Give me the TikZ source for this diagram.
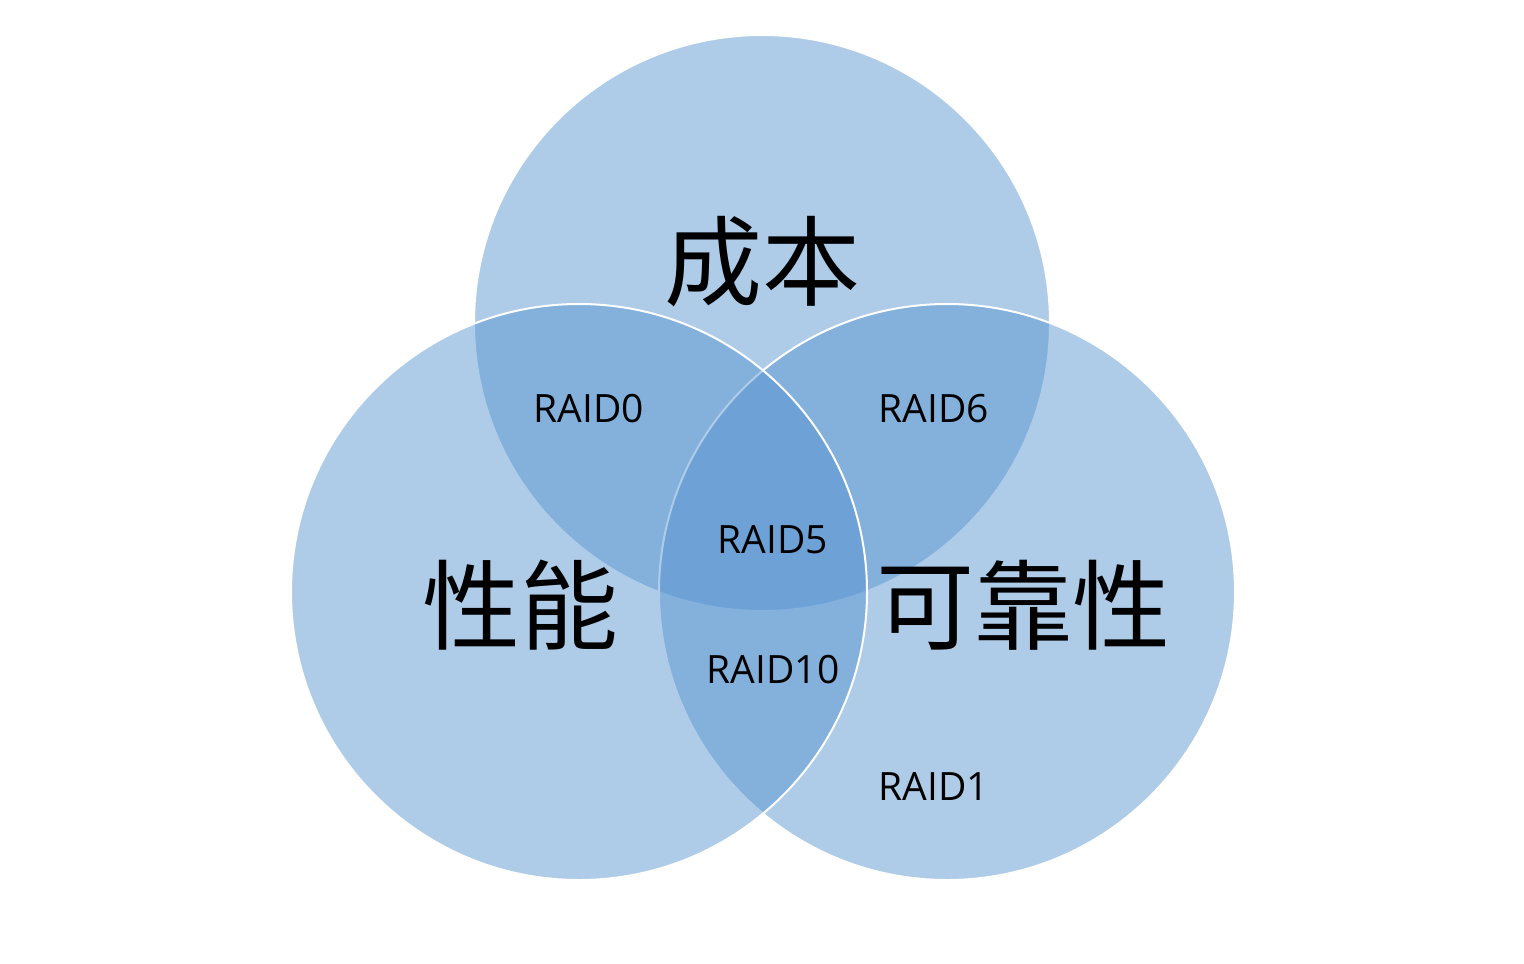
\documentclass[tikz,border=0pt]{standalone}
\usepackage{fontspec}
\setmainfont{Open Sans}
\newfontfamily\cjk{Noto Sans CJK SC}
\usepackage{tikz}
\definecolor{venn}{RGB}{86,147,207}

\begin{document}
\begin{tikzpicture}[x=.5pt,y=-.5pt,
    set/.style={fill=venn,fill opacity=.48},
    rim/.style={white,line width=1pt},
    big/.style={font=\cjk\fontsize{49pt}{55pt}\selectfont},
    raid/.style={font=\fontsize{19.5pt}{23pt}\selectfont}]
  \useasboundingbox (0,0) rectangle (1524,963);
  % top, right, left
  \coordinate (cost) at (762,323);
  \coordinate (rel) at (947,592);
  \coordinate (perf) at (579,592);
  \fill[set] (cost) circle (288);
  \draw[rim] (cost) circle (288);
  \fill[set] (rel) circle (288);
  \draw[rim] (rel) circle (288);
  \fill[set] (perf) circle (288);
  \draw[rim] (perf) circle (288);
  \node[big] (chengben) at (762,262) {成本};
  \node[big] (xingneng) at (520,605) {性能};
  \node[big] (kekaoxing) at (1023,605) {可靠性};
  \node[raid] (r0) at (589,409) {RAID0};
  \node[raid] (r6) at (934,409) {RAID6};
  \node[raid] (r5) at (773,540) {RAID5};
  \node[raid] (r10) at (773,670) {RAID10};
  \node[raid] (r1) at (934,787) {RAID1};
\end{tikzpicture}
\end{document}
